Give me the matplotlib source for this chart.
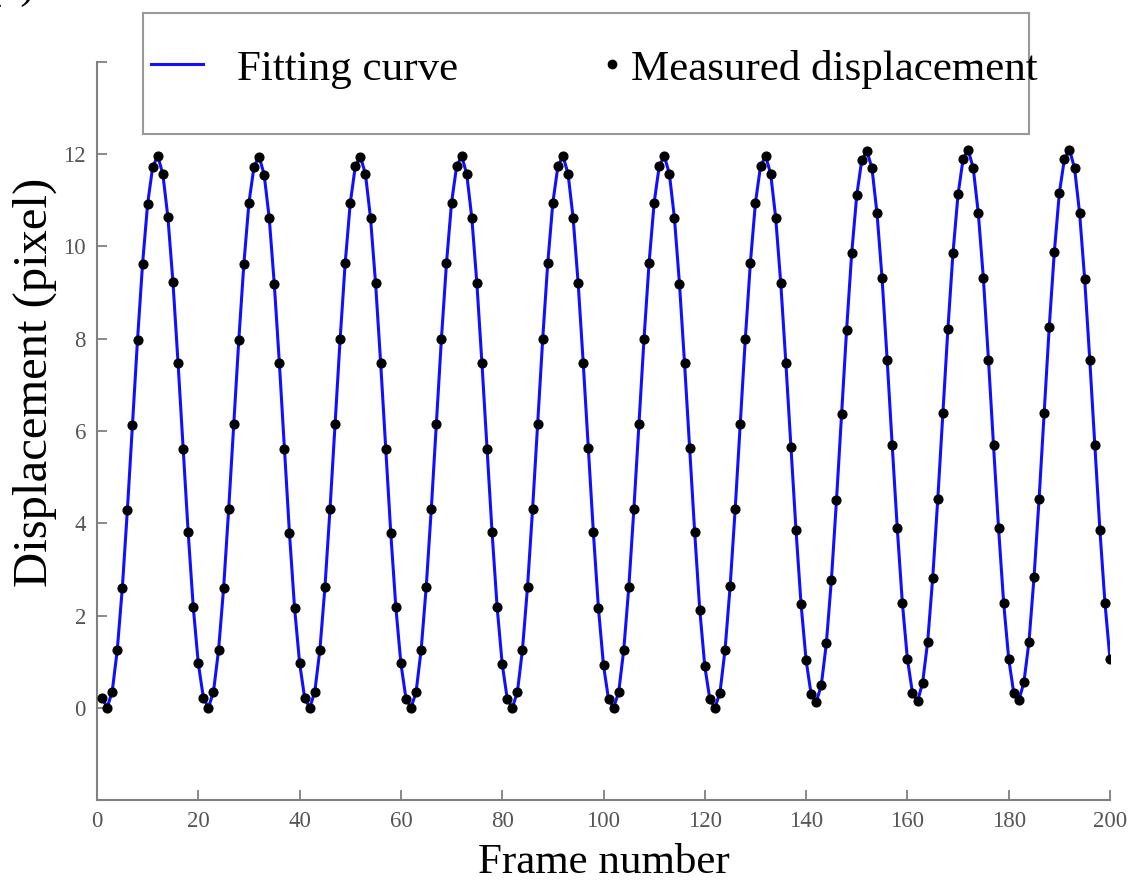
import matplotlib
matplotlib.use("Agg")
import matplotlib.pyplot as plt
from matplotlib.lines import Line2D
from matplotlib.patches import Rectangle

# measured displacement (pixel) for frames 1..200
frames = list(range(1, 201))
displacement = [
    0.22, 0.00, 0.35, 1.25, 2.60, 4.29, 6.14, 7.98, 9.63, 10.93, 11.73, 11.96, 11.57, 10.63, 9.22, 7.48, 5.62, 3.80, 2.19, 0.96,
    0.22, 0.00, 0.35, 1.25, 2.60, 4.31, 6.15, 7.98, 9.63, 10.95, 11.73, 11.95, 11.56, 10.62, 9.19, 7.48, 5.61, 3.78, 2.17, 0.97,
    0.21, 0.00, 0.35, 1.25, 2.61, 4.30, 6.15, 7.99, 9.64, 10.94, 11.74, 11.95, 11.57, 10.62, 9.20, 7.48, 5.62, 3.79, 2.18, 0.96,
    0.20, 0.00, 0.34, 1.26, 2.62, 4.31, 6.16, 8.00, 9.64, 10.95, 11.74, 11.96, 11.57, 10.62, 9.20, 7.47, 5.62, 3.80, 2.18, 0.95,
    0.19, 0.00, 0.34, 1.26, 2.62, 4.31, 6.16, 8.00, 9.65, 10.95, 11.74, 11.96, 11.58, 10.62, 9.20, 7.47, 5.63, 3.80, 2.16, 0.92,
    0.18, 0.00, 0.34, 1.26, 2.62, 4.31, 6.16, 8.00, 9.65, 10.95, 11.74, 11.96, 11.58, 10.62, 9.19, 7.47, 5.63, 3.81, 2.13, 0.90,
    0.18, 0.00, 0.33, 1.26, 2.63, 4.31, 6.16, 8.00, 9.65, 10.95, 11.74, 11.96, 11.58, 10.62, 9.20, 7.48, 5.66, 3.86, 2.25, 1.03,
    0.29, 0.12, 0.49, 1.40, 2.78, 4.50, 6.36, 8.20, 9.85, 11.11, 11.88, 12.07, 11.70, 10.72, 9.31, 7.55, 5.69, 3.89, 2.28, 1.06,
    0.32, 0.14, 0.54, 1.43, 2.82, 4.53, 6.38, 8.22, 9.86, 11.13, 11.90, 12.09, 11.70, 10.72, 9.31, 7.55, 5.69, 3.89, 2.28, 1.06,
    0.32, 0.16, 0.55, 1.43, 2.83, 4.53, 6.40, 8.25, 9.87, 11.16, 11.90, 12.10, 11.70, 10.72, 9.29, 7.55, 5.69, 3.86, 2.28, 1.05,
]

x_ticks = [0, 20, 40, 60, 80, 100, 120, 140, 160, 180, 200]
y_ticks = [-2, 0, 2, 4, 6, 8, 10, 12, 14]
y_tick_labels = ["", "0", "2", "4", "6", "8", "10", "12", ""]

plt.rcParams["font.family"] = ["Liberation Serif", "DejaVu Serif"]

W, H = 1145, 880
fig = plt.figure(figsize=(W / 100, H / 100), dpi=100)
ax = fig.add_axes([97 / W, 1 - 800 / H, (1110 - 97) / W, (800 - 62) / H])

grey = "#808080"
ax.plot(frames, displacement, color="#1010ff", lw=2.2, zorder=2)
ax.plot(frames, displacement, "o", color="black", ms=6.3, zorder=3)

ax.set_xlim(0, 200)
ax.set_ylim(-2, 14)
ax.set_xticks(x_ticks)
ax.set_yticks(y_ticks)
ax.set_yticklabels(y_tick_labels)

for s in ["top", "right"]:
    ax.spines[s].set_visible(False)
for s in ["left", "bottom"]:
    ax.spines[s].set_color(grey)
    ax.spines[s].set_linewidth(1.5)
ax.tick_params(direction="in", length=7, width=1.3, color=grey,
               labelcolor="#555555", labelsize=16.5, pad=8)

ax.set_xlabel("Frame number", fontsize=31, labelpad=8)
ax.set_ylabel("Displacement (pixel)", fontsize=35)
ax.yaxis.set_label_coords(-0.039, 0.566)

# legend frame
fig.patches.append(Rectangle((143 / W, 1 - 134 / H), (1029 - 143) / W, 121 / H,
                             transform=fig.transFigure, fill=False,
                             edgecolor="#999999", lw=1.5))
h_line = Line2D([], [], color="#1010ff", lw=2.2)
h_dot = Line2D([], [], ls="", marker="o", color="black", ms=6)
leg1 = fig.legend([h_line], ["Fitting curve"], loc="center left",
                  bbox_to_anchor=(151 / W, 1 - 69 / H), frameon=False,
                  fontsize=31, borderpad=0, borderaxespad=0,
                  handlelength=1.2, handletextpad=0.8)
leg2 = fig.legend([h_dot], ["Measured displacement"], loc="center left",
                  bbox_to_anchor=(600 / W, 1 - 69 / H), frameon=False,
                  fontsize=31, borderpad=0, borderaxespad=0,
                  handlelength=0.55, handletextpad=0.18)

# panel tag, cut off at the top edge
fig.text(35 / W, 1 + 2 / H, "(a)", fontsize=31, ha="right", va="baseline")

fig.savefig("out.png", dpi=100)
